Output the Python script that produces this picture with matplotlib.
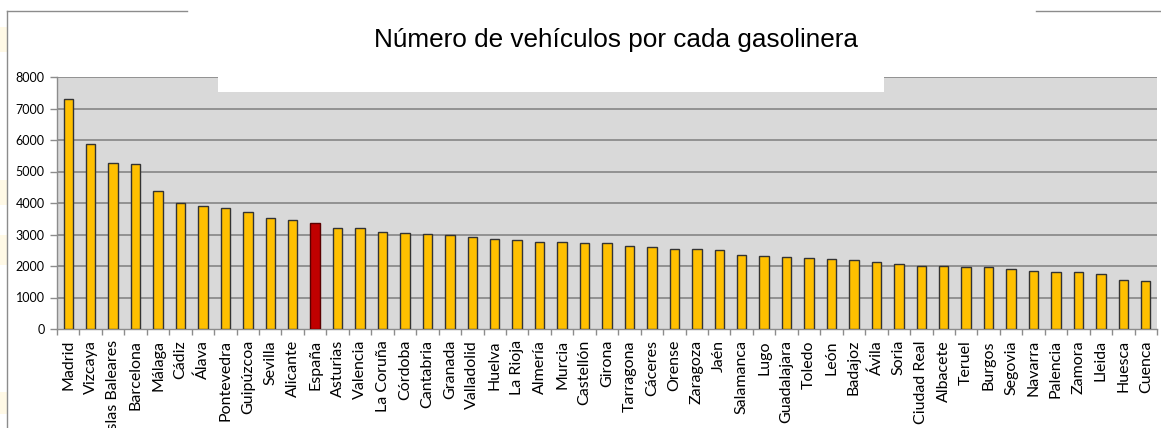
import matplotlib
matplotlib.use("Agg")
import matplotlib.pyplot as plt
from matplotlib.patches import Rectangle
from matplotlib.lines import Line2D

provincias = ["Madrid", "Vizcaya", "Islas Baleares", "Barcelona", "Málaga", "Cádiz", "Álava",
              "Pontevedra", "Guipúzcoa", "Sevilla", "Alicante", "España", "Asturias", "Valencia",
              "La Coruña", "Córdoba", "Cantabria", "Granada", "Valladolid", "Huelva", "La Rioja",
              "Almería", "Murcia", "Castellón", "Girona", "Tarragona", "Cáceres", "Orense",
              "Zaragoza", "Jaén", "Salamanca", "Lugo", "Guadalajara", "Toledo", "León", "Badajoz",
              "Ávila", "Soria", "Ciudad Real", "Albacete", "Teruel", "Burgos", "Segovia", "Navarra",
              "Palencia", "Zamora", "Lleida", "Huesca", "Cuenca"]
vehiculos = [7310, 5870, 5255, 5230, 4395, 3985, 3900, 3845, 3700, 3530, 3475, 3370, 3220, 3210,
             3095, 3060, 3025, 2995, 2930, 2855, 2815, 2770, 2760, 2740, 2720, 2625, 2615, 2550,
             2545, 2495, 2340, 2305, 2285, 2255, 2230, 2180, 2135, 2050, 2010, 1990, 1980, 1955,
             1905, 1840, 1800, 1795, 1735, 1545, 1515]
destacado = "España"
y_ticks = [0, 1000, 2000, 3000, 4000, 5000, 6000, 7000, 8000]
titulo = "Número de vehículos por cada gasolinera"

W, H = 1161, 428
fig = plt.figure(figsize=(W / 100, H / 100), dpi=100)
fig.patch.set_facecolor("white")

def fx(px):
    return px / W

def fy(py):
    return 1 - py / H

# faint background decorations on the left edge
for (y0, y1) in [(27, 52), (180, 205), (235, 265), (392, 414)]:
    fig.patches.append(Rectangle((0, fy(y1)), fx(7), fy(y0) - fy(y1), transform=fig.transFigure,
                                 facecolor="#FFF9E6", edgecolor="none", zorder=0))

ax = fig.add_axes([fx(57), fy(329), fx(1157) - fx(57), fy(77) - fy(329)])
ax.set_facecolor("#D9D9D9")

x = list(range(len(provincias)))
colors = ["#C00000" if p == destacado else "#FFC000" for p in provincias]
edges = ["#5A0000" if p == destacado else "#333333" for p in provincias]
ax.bar(x, vehiculos, width=0.42, color=colors, edgecolor=edges, linewidth=1.0, zorder=3)

ax.set_xlim(-0.5, len(provincias) - 0.5)
ax.set_ylim(0, 8000)
ax.set_yticks(y_ticks)
ax.set_yticklabels([str(v) for v in y_ticks], fontsize=9, family=["Lato", "DejaVu Sans"])
for v in y_ticks[1:]:
    ax.axhline(v, color="#8C8C8C", linewidth=1.3, zorder=1)

ax.set_xticks(x)
ax.set_xticklabels(provincias, rotation=90, fontsize=11.5, family=["Lato", "DejaVu Sans"],
                   va="top", ha="center")
ax.set_xticks([i - 0.5 for i in range(len(provincias) + 1)], minor=True)
ax.tick_params(axis="x", which="major", length=0, pad=8)
ax.tick_params(axis="x", which="minor", length=4, color="#8C8C8C", width=1)
ax.tick_params(axis="y", length=5, color="#8C8C8C", width=1, pad=4)

for s in ["top", "right"]:
    ax.spines[s].set_visible(False)
for s in ["left", "bottom"]:
    ax.spines[s].set_color("#8C8C8C")
    ax.spines[s].set_linewidth(1.0)

# white title box overlapping top of plot area
fig.patches.append(Rectangle((fx(218), fy(92)), fx(884) - fx(218), fy(0) - fy(92),
                             transform=fig.transFigure, facecolor="white", edgecolor="none", zorder=5))
fig.text(fx(616), fy(40), titulo, ha="center", va="center", fontsize=18.8,
         family=["Liberation Sans", "DejaVu Sans"], zorder=6)

# outer frame pieces
for (xs, ys) in [([7.3, 7.3], [11, 428]), ([7.3, 187], [11, 11]), ([1036, 1161], [11, 11])]:
    fig.lines.append(Line2D([fx(v) for v in xs], [fy(v) for v in ys], transform=fig.transFigure,
                            color="#8C8C8C", linewidth=1.0, zorder=6))

fig.savefig("out.png", dpi=100, facecolor="white")
